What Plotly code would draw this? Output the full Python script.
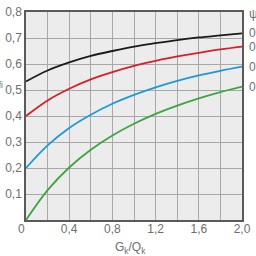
import plotly.graph_objects as go

ratio = [0.0, 0.2, 0.4, 0.6, 0.8, 1.0, 1.2, 1.4, 1.6, 1.8, 2.0]
psi_labels = ["0,8", "0,6", "0,3", "0,0"]
eta_08 = [0.533, 0.575, 0.606, 0.631, 0.650, 0.667, 0.680, 0.692, 0.702, 0.710, 0.718]
eta_06 = [0.400, 0.460, 0.505, 0.541, 0.569, 0.593, 0.612, 0.629, 0.643, 0.656, 0.667]
eta_03 = [0.200, 0.287, 0.354, 0.405, 0.447, 0.481, 0.510, 0.535, 0.556, 0.574, 0.590]
eta_00 = [0.000, 0.115, 0.202, 0.270, 0.325, 0.370, 0.408, 0.440, 0.468, 0.492, 0.513]
colors = ["#1a1a1a", "#d81e28", "#1d9ad6", "#3ea443"]

x_ticks = [0, 0.2, 0.4, 0.6, 0.8, 1.0, 1.2, 1.4, 1.6, 1.8, 2.0]
x_ticktext = ["", "", "0,4", "", "0,8", "", "1,2", "", "1,6", "", "2,0"]
y_ticks = [0, 0.1, 0.2, 0.3, 0.4, 0.5, 0.6, 0.7, 0.8]
y_ticktext = ["", "0,1", "0,2", "0,3", "0,4", "0,5", "0,6", "0,7", "0,8"]

fig = go.Figure()
series = [eta_08, eta_06, eta_03, eta_00]
for vals, col in zip(series, colors):
    fig.add_trace(go.Scatter(x=ratio, y=vals, mode="lines",
                             line=dict(color=col, width=1.8, shape="spline"),
                             showlegend=False, cliponaxis=False))

font = dict(family="Liberation Sans, Arial, sans-serif", size=12, color="#6e6e6e")
annotations = []
for vals, lab in zip(series, psi_labels):
    annotations.append(dict(x=1.0, xref="paper", y=vals[-1], yref="y", text=lab,
                            showarrow=False, xanchor="left", xshift=5, font=font))
annotations.append(dict(x=1.0, xref="paper", y=0.8, yref="y", text="ψ<sub>fi</sub>",
                        showarrow=False, xanchor="left", xshift=5, yshift=-3, font=font))
annotations.append(dict(x=0, xref="paper", y=0.53, yref="y", text="η<sub>fi</sub>",
                        showarrow=False, xanchor="right", xshift=-21, font=font))
annotations.append(dict(x=0, xref="paper", y=0, yref="y", text="0",
                        showarrow=False, xanchor="center", xshift=-5, yshift=-9, font=font))
annotations.append(dict(x=0.5, xref="paper", y=0, yref="y", text="G<sub>k</sub>/Q<sub>k</sub>",
                        showarrow=False, xanchor="center", yanchor="middle", xshift=-4, yshift=-28, font=font))

fig.update_layout(
    width=256, height=256,
    margin=dict(l=25, r=10, t=5, b=36),
    paper_bgcolor="white", plot_bgcolor="#ececec",
    font=font,
    annotations=annotations,
    xaxis=dict(range=[0, 2.0], tickvals=x_ticks, ticktext=x_ticktext,
               showgrid=True, gridcolor="#a8a8a8", gridwidth=1,
               showline=True, linecolor="#5a5a5a", linewidth=1.5, mirror=True,
               ticks="", zeroline=False, tickfont=font, ticklabelstandoff=-3),
    yaxis=dict(range=[0, 0.8], tickvals=y_ticks, ticktext=y_ticktext,
               showgrid=True, gridcolor="#a8a8a8", gridwidth=1,
               showline=True, linecolor="#5a5a5a", linewidth=1.5, mirror=True,
               ticks="", zeroline=False, tickfont=font),
)
fig.write_html("out.html")
